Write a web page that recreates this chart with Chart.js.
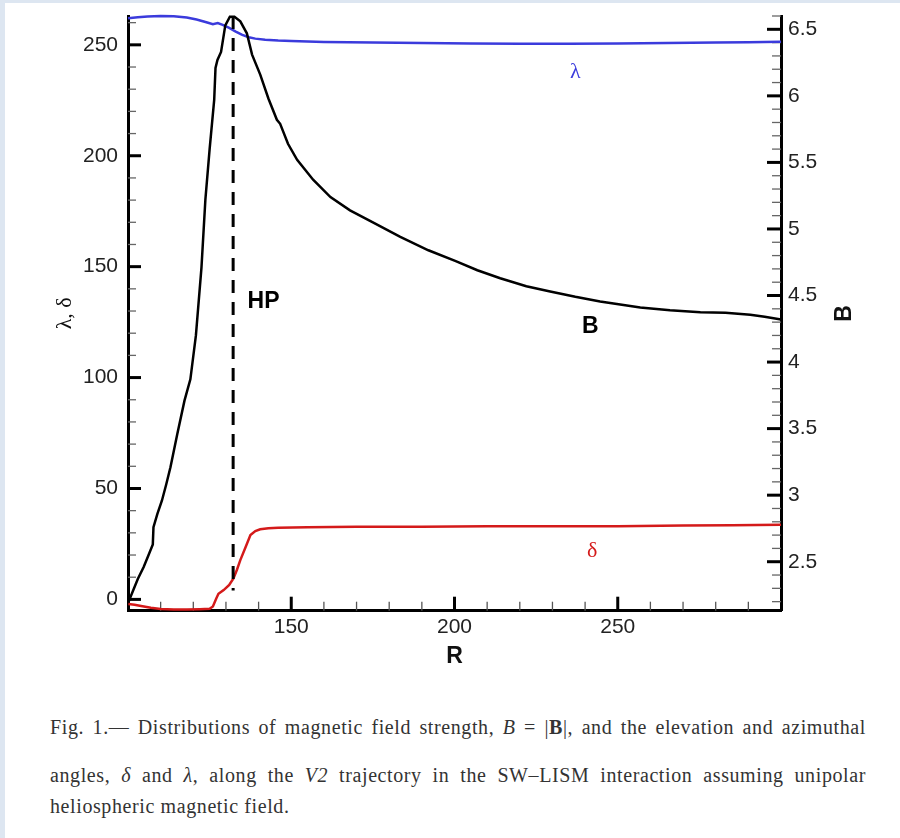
<!DOCTYPE html>
<html>
<head>
<meta charset="utf-8">
<script src="https://cdn.jsdelivr.net/npm/chart.js@4.4.1/dist/chart.umd.min.js"></script>
<style>
  html, body { margin: 0; padding: 0; }
  body { width: 900px; height: 838px; background: #dde6f1; position: relative; overflow: hidden; }
  #sheet { position: absolute; left: 5px; top: 3px; right: 0; bottom: 0; background: #fff; }
  #plot { position: absolute; left: 0; top: 0; }
  .cap { position: absolute; left: 50px; width: 816px; font-family: "Liberation Serif", "DejaVu Serif", serif;
         font-size: 20px; letter-spacing: 0.6px; color: #333; white-space: nowrap; line-height: 22px; }
  .just { text-align: justify; text-align-last: justify; white-space: normal; }
</style>
</head>
<body>
<div id="sheet"></div>
<canvas id="plot" width="900" height="680"></canvas>
<div class="cap just" style="top:716px">Fig. 1.— Distributions of magnetic field strength, <i>B</i> = |<b>B</b>|, and the elevation and azimuthal</div>
<div class="cap just" style="top:764px">angles, <i>δ</i> and <i>λ</i>, along the <i>V2</i> trajectory in the SW–LISM interaction assuming unipolar</div>
<div class="cap" style="top:795px">heliospheric magnetic field.</div>
<script>
// heliocentric distance R for each profile
var lambdaR = [100, 103, 106, 110, 114, 118, 121, 124, 126, 127.5, 129, 131, 133, 135, 137, 139, 142, 146, 150, 160, 175, 190, 205, 220, 235, 250, 265, 280, 290, 300];
var lambdaVals = [262.0, 262.4, 262.8, 263.0, 262.9, 262.3, 261.4, 260.2, 259.3, 259.8, 259.0, 257.6, 256.0, 254.5, 253.4, 252.8, 252.3, 251.9, 251.7, 251.3, 251.0, 250.8, 250.6, 250.5, 250.5, 250.6, 250.8, 251.0, 251.2, 251.4];

var bR = [100.2, 101.6, 103, 104.8, 106.3, 107.6, 107.8, 109, 110.4, 111.7, 113, 115.1, 117.3, 119.1, 120.8, 122.5, 123.7, 125, 126.4, 126.8, 127.4, 128.5, 129.8, 131.2, 132.6, 134.4, 136.4, 138, 140.5, 143, 145.6, 146.6, 149, 151.8, 156.7, 162, 168, 175, 183.4, 192, 200.2, 207, 214, 222, 229.3, 237, 244.6, 256.9, 266, 275.3, 283, 290.6, 295, 300];
var bVals = [2.20, 2.285, 2.37, 2.46, 2.55, 2.63, 2.76, 2.86, 2.96, 3.08, 3.21, 3.46, 3.71, 3.87, 4.20, 4.71, 5.22, 5.60, 5.97, 6.21, 6.27, 6.33, 6.53, 6.595, 6.595, 6.56, 6.47, 6.31, 6.16, 5.98, 5.82, 5.79, 5.64, 5.52, 5.37, 5.24, 5.14, 5.05, 4.94, 4.84, 4.76, 4.69, 4.63, 4.57, 4.53, 4.49, 4.455, 4.41, 4.39, 4.375, 4.37, 4.355, 4.34, 4.32];

var deltaR = [100.1, 102, 104, 107, 110, 114, 118, 122, 125, 126, 127, 127.7, 129.3, 131, 132.3, 133.4, 134.4, 136, 137.5, 139, 140.5, 143, 146, 155, 170, 190, 210, 230, 250, 270, 285, 300];
var deltaVals = [-2.1, -2.4, -3.0, -3.8, -4.3, -4.6, -4.6, -4.4, -4.2, -3.2, 0.3, 2.5, 4.2, 6.5, 9.5, 13.5, 17.7, 23.5, 29.0, 30.8, 31.6, 32.1, 32.3, 32.5, 32.7, 32.8, 33.0, 33.0, 33.0, 33.3, 33.4, 33.7];

// heliopause position
var hpR = 132.2;
var hpSpan = [263, 4];

var rTicks = [150, 200, 250];
var angleTicks = [0, 50, 100, 150, 200, 250];
var bTicks = [2.5, 3, 3.5, 4, 4.5, 5, 5.5, 6, 6.5];

function pts(xs, ys) {
  return xs.map(function (x, i) { return { x: x, y: ys[i] }; });
}

function fixedTicks(list) {
  return function (axis) {
    axis.ticks = list.map(function (v) { return { value: v }; });
  };
}

// pin the axis box size and drop the label overhang padding
function boxSize(prop, size) {
  return function (s) {
    s[prop] = size;
    s.paddingTop = 0; s.paddingBottom = 0; s.paddingLeft = 0; s.paddingRight = 0;
  };
}

function range(a, b, step) {
  var out = [];
  for (var v = a; v <= b + 1e-9; v += step) out.push(Math.round(v * 100) / 100);
  return out;
}

// tick marks point into the plot, with minor ticks between labels
var insideTicks = {
  id: 'insideTicks',
  beforeDatasetsDraw: function (chart) {
    var c = chart.ctx, a = chart.chartArea, s = chart.scales;
    c.save();
    function mark(x1, y1, x2, y2, w, col) {
      c.beginPath(); c.lineWidth = w; c.strokeStyle = col;
      c.moveTo(x1, y1); c.lineTo(x2, y2); c.stroke();
    }
    range(110, 290, 10).forEach(function (v) {
      var x = s.x.getPixelForValue(v);
      if (rTicks.indexOf(v) >= 0) mark(x, a.bottom, x, a.bottom - 14, 3, '#000');
      else mark(x, a.bottom, x, a.bottom - 9, 1.3, '#555');
    });
    range(0, 260, 10).forEach(function (v) {
      var y = s.y.getPixelForValue(v);
      if (angleTicks.indexOf(v) >= 0) mark(a.left, y, a.left + 13, y, 3, '#000');
      else mark(a.left, y, a.left + 8, y, 1.3, '#666');
    });
    range(2.2, 6.6, 0.1).forEach(function (v) {
      var y = s.y1.getPixelForValue(v);
      if (bTicks.indexOf(v) >= 0) mark(a.right, y, a.right - 14, y, 3, '#000');
      else mark(a.right, y, a.right - 9, y, 1.3, '#666');
    });
    c.restore();
  },
  afterDatasetsDraw: function (chart) {
    var c = chart.ctx, s = chart.scales, a = chart.chartArea;
    function label(txt, r, v, font, col) {
      c.font = font; c.fillStyle = col;
      c.textAlign = 'center'; c.textBaseline = 'middle';
      c.fillText(txt, s.x.getPixelForValue(r), s.y.getPixelForValue(v));
    }
    c.save();
    label('HP', 141.5, 134, 'bold 23px "Liberation Sans", Arial, sans-serif', '#000');
    label('B', 241.6, 122.8, 'bold 23px "Liberation Sans", Arial, sans-serif', '#000');
    label('λ', 237, 237.8, '22px "Liberation Serif", serif', '#3b3bdc');
    label('δ', 242.2, 21.8, '22px "Liberation Serif", serif', '#d41a1a');
    // right axis title, reading bottom to top like the left one
    c.translate(845, (a.top + a.bottom) / 2);
    c.rotate(-Math.PI / 2);
    c.font = 'bold 23px "Liberation Sans", Arial, sans-serif';
    c.fillStyle = '#111';
    c.fillText('B', 0, 0);
    c.restore();
  }
};

var tickFont = { family: '"Liberation Sans", Arial, sans-serif', size: 21 };

new Chart(document.getElementById('plot'), {
  type: 'line',
  data: {
    datasets: [
      { label: 'B', data: pts(bR, bVals), yAxisID: 'y1', borderColor: '#000', borderWidth: 2.5 },
      { label: 'HP', data: pts([hpR, hpR], hpSpan), yAxisID: 'y', borderColor: '#000', borderWidth: 3, borderDash: [13, 9] },
      { label: 'δ', data: pts(deltaR, deltaVals), yAxisID: 'y', borderColor: '#d41a1a', borderWidth: 2.5 },
      { label: 'λ', data: pts(lambdaR, lambdaVals), yAxisID: 'y', borderColor: '#3b3bdc', borderWidth: 2.5 }
    ]
  },
  options: {
    responsive: false,
    animation: false,
    events: [],
    elements: { point: { radius: 0 }, line: { tension: 0, fill: false } },
    datasets: { line: { clip: 6 } },
    layout: { padding: { top: 16, left: 0, right: 0, bottom: 0 } },
    plugins: { legend: { display: false }, tooltip: { enabled: false } },
    scales: {
      x: {
        type: 'linear', position: 'bottom', min: 100, max: 300,
        afterBuildTicks: fixedTicks(rTicks),
        afterFit: boxSize('height', 69.3),
        grid: { display: false, drawTicks: false },
        border: { display: true, color: '#000', width: 3 },
        ticks: { font: tickFont, color: '#222', padding: 4, maxRotation: 0 },
        title: { display: true, text: 'R', color: '#111', padding: { top: 0, bottom: 10 },
                 font: { family: '"Liberation Sans", Arial, sans-serif', size: 23, weight: 'bold' } }
      },
      y: {
        type: 'linear', position: 'left', min: -5.1, max: 263,
        afterBuildTicks: fixedTicks(angleTicks),
        afterFit: boxSize('width', 128),
        grid: { display: false, drawTicks: false },
        border: { display: true, color: '#000', width: 3 },
        ticks: { font: tickFont, color: '#222', padding: 10 },
        title: { display: true, text: 'λ, δ', color: '#111', padding: { top: 52, bottom: 0 },
                 font: { family: '"Liberation Serif", serif', size: 22 } }
      },
      y1: {
        type: 'linear', position: 'right', min: 2.132, max: 6.6,
        afterBuildTicks: fixedTicks(bTicks),
        afterFit: boxSize('width', 119),
        grid: { display: false, drawTicks: false },
        border: { display: true, color: '#000', width: 3 },
        ticks: { font: tickFont, color: '#222', padding: 7, callback: function (v) { return String(v); } }
      }
    }
  },
  plugins: [insideTicks]
});
</script>
</body>
</html>
